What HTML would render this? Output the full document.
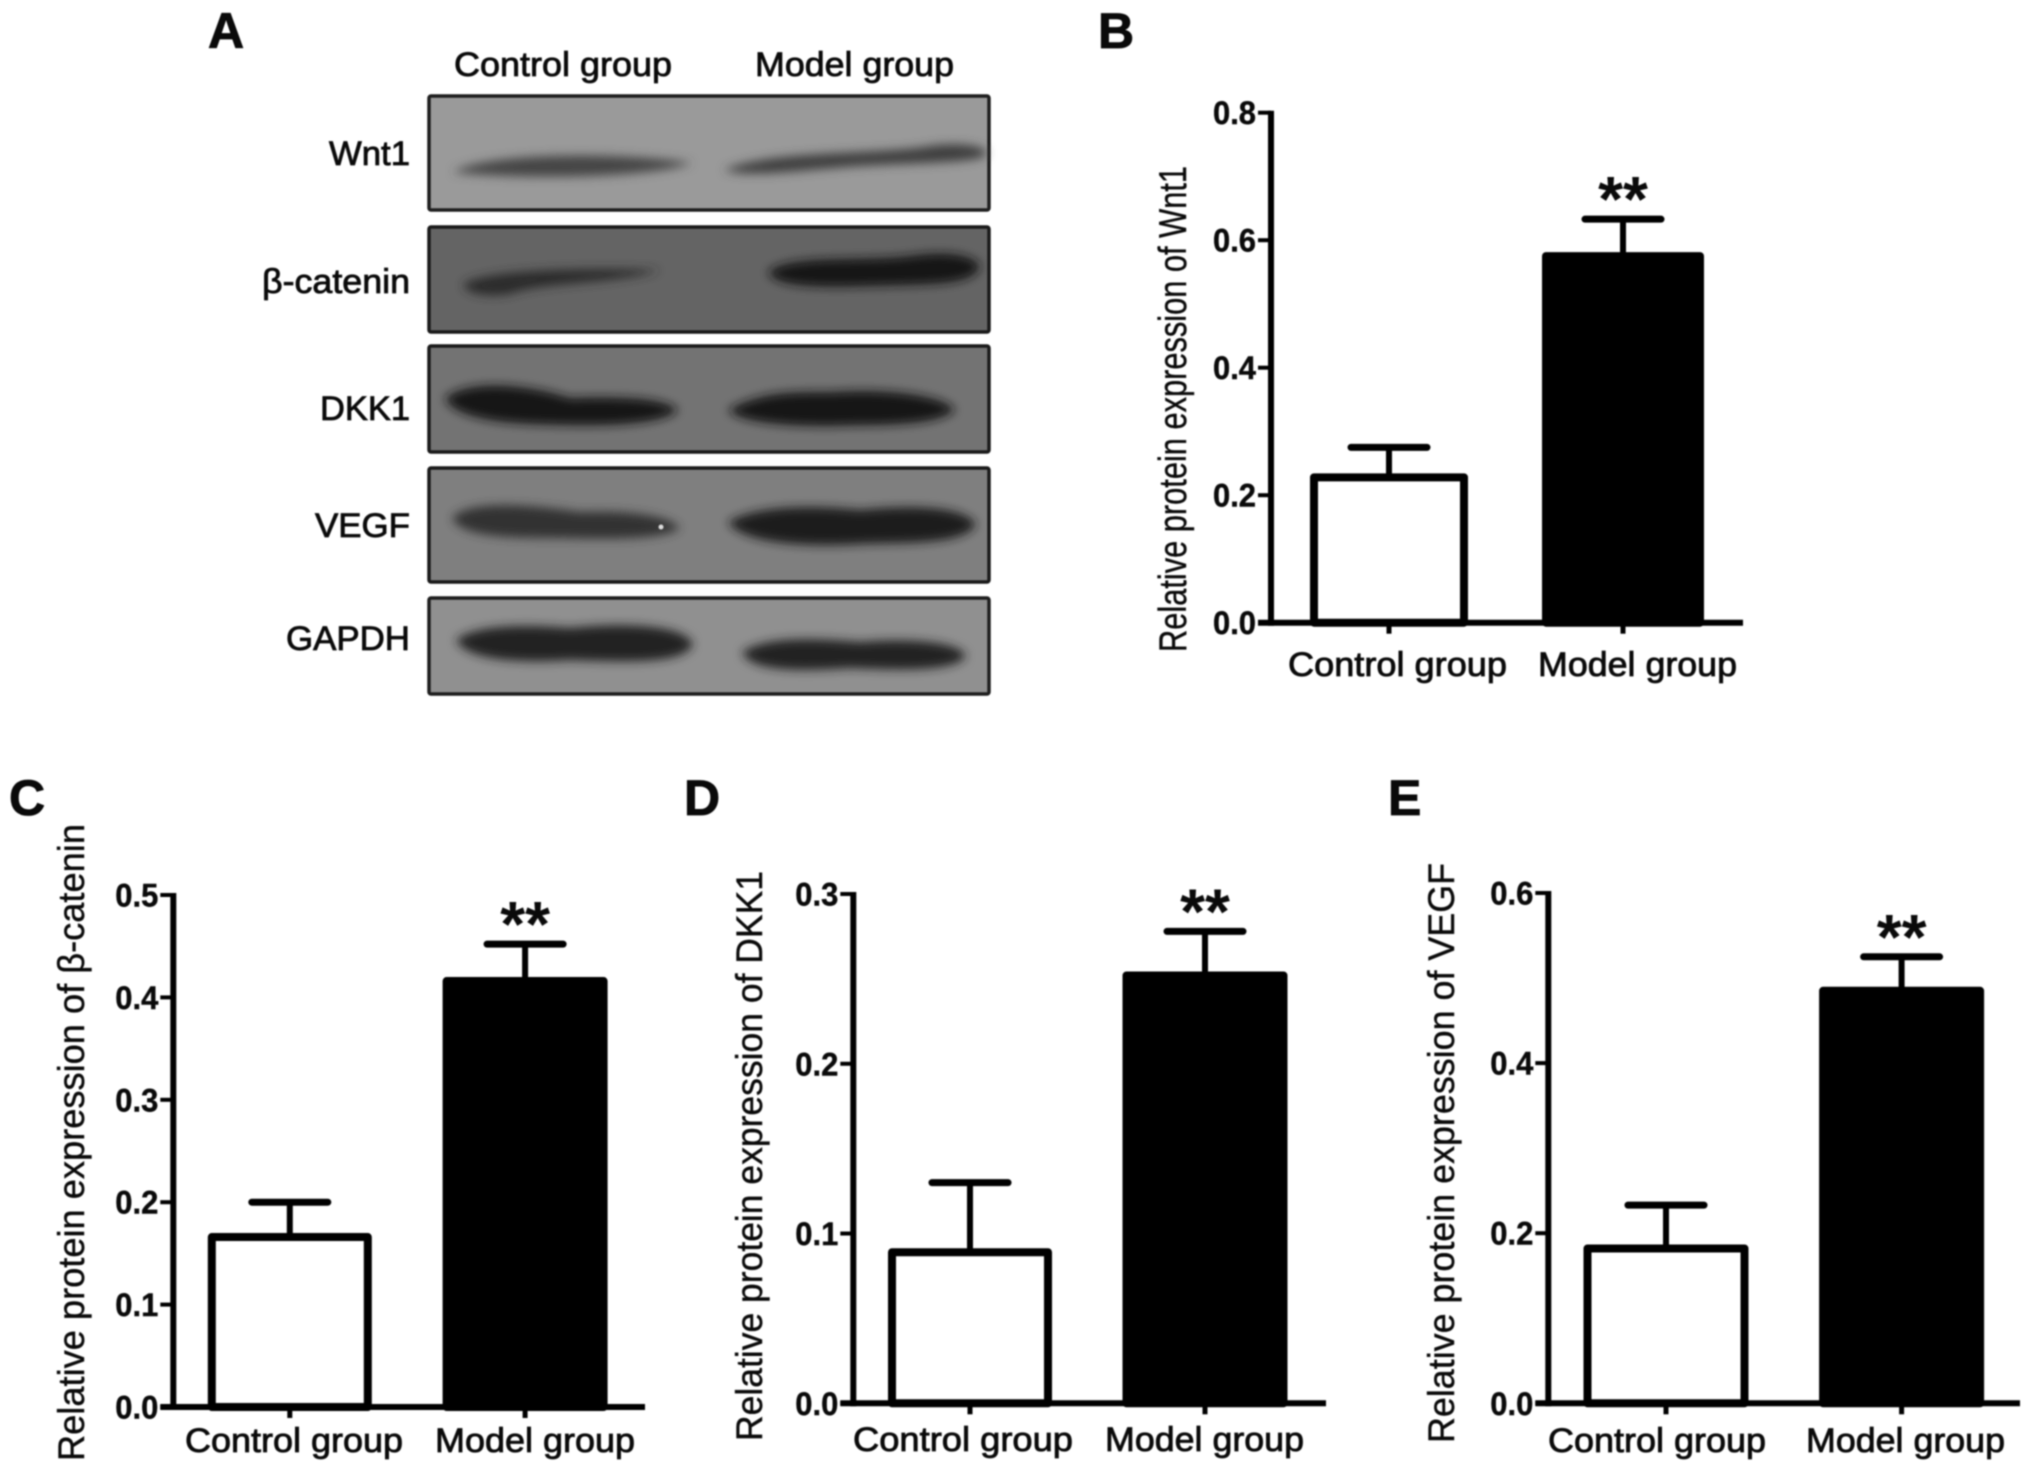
<!DOCTYPE html>
<html lang="en">
<head>
<meta charset="utf-8">
<title>Relative protein expression figure</title>
<style>
html,body{margin:0;padding:0;background:#fff;width:2031px;height:1474px;overflow:hidden}
svg{display:block;filter:blur(.8px)}
text{font-family:"Liberation Sans","DejaVu Sans",sans-serif;fill:#0a0a0a}
.panel-letter{font-size:50px;font-weight:700;stroke:#000;stroke-width:.8px}
.label{font-size:34px;stroke:#0a0a0a;stroke-width:.8px}
.axis-title{font-size:37px;stroke:#0a0a0a;stroke-width:.4px}
.tick{font-size:32px;font-weight:700;stroke:#000;stroke-width:.4px}
.band{filter:url(#soft)}
</style>
</head>
<body>
<svg id="figure" width="2031" height="1474" viewBox="0 0 2031 1474" xmlns="http://www.w3.org/2000/svg">
<defs>
<filter id="soft" filterUnits="userSpaceOnUse" x="0" y="0" width="2031" height="1474"><feGaussianBlur stdDeviation="5"/></filter>
</defs>
<rect width="2031" height="1474" fill="#fff"/>

<text class="panel-letter" x="208" y="48">A</text>
<text class="panel-letter" x="1098" y="48">B</text>
<text class="panel-letter" x="9" y="815">C</text>
<text class="panel-letter" x="684" y="815">D</text>
<text class="panel-letter" x="1388" y="815">E</text>

<g>
  <text class="label" x="454" y="76" textLength="218" lengthAdjust="spacingAndGlyphs">Control group</text>
  <text class="label" x="755" y="76" textLength="199" lengthAdjust="spacingAndGlyphs">Model group</text>
  <text class="label" x="410" y="165" text-anchor="end" textLength="81" lengthAdjust="spacingAndGlyphs">Wnt1</text>
  <text class="label" x="410" y="293" text-anchor="end" textLength="148" lengthAdjust="spacingAndGlyphs">β-catenin</text>
  <text class="label" x="410" y="420" text-anchor="end" textLength="90" lengthAdjust="spacingAndGlyphs">DKK1</text>
  <text class="label" x="410" y="537" text-anchor="end" textLength="95" lengthAdjust="spacingAndGlyphs">VEGF</text>
  <text class="label" x="410" y="650" text-anchor="end" textLength="124" lengthAdjust="spacingAndGlyphs">GAPDH</text>

  <g>
    <rect x="429" y="96" width="560" height="114" rx="2" fill="#9a9a9a" stroke="#1e1e1e" stroke-width="3.5"/>
    <path class="band" d="M453 172 C490 152 620 152 692 163 C650 178 520 180 453 172Z" fill="#444"/>
    <path class="band" d="M724 170 C770 150 880 155 930 146 C960 142 985 146 987 153 C985 163 930 162 860 166 C800 170 750 178 724 170Z" fill="#3c3c3c"/>
  </g>
  <g>
    <rect x="429" y="227" width="560" height="105" rx="2" fill="#646464" stroke="#1a1a1a" stroke-width="3.5"/>
    <path class="band" d="M463 284 C490 268 600 268 660 270 C620 284 540 282 510 294 C480 298 465 292 463 284Z" fill="#2a2a2a"/>
    <path class="band" d="M768 272 C790 254 860 262 910 256 C950 250 975 256 980 266 C975 286 930 284 870 286 C810 288 775 286 768 272Z" fill="#181818"/>
  </g>
  <g>
    <rect x="429" y="346" width="560" height="106" rx="2" fill="#737373" stroke="#1a1a1a" stroke-width="3.5"/>
    <path class="band" d="M445 398 C470 378 530 385 570 398 C620 396 665 398 678 410 C660 428 580 426 530 424 C480 422 450 412 445 398Z" fill="#181818"/>
    <path class="band" d="M728 410 C760 392 790 392 830 392 C890 388 945 396 955 410 C935 428 870 424 830 426 C780 426 740 422 728 410Z" fill="#161616"/>
  </g>
  <g>
    <rect x="429" y="468" width="560" height="114" rx="2" fill="#7f7f7f" stroke="#1a1a1a" stroke-width="3.5"/>
    <path class="band" d="M452 518 C470 498 540 506 580 512 C630 510 670 516 680 528 C660 542 590 538 550 538 C500 538 460 535 452 518Z" fill="#333"/>
    <path class="band" d="M728 522 C760 504 820 506 860 510 C920 504 965 508 976 524 C965 546 900 542 860 544 C790 548 740 540 728 522Z" fill="#1c1c1c"/>
    <circle cx="661" cy="527" r="2.5" fill="#dcdcdc"/>
  </g>
  <g>
    <rect x="429" y="598" width="560" height="96" rx="2" fill="#909090" stroke="#1e1e1e" stroke-width="3.5"/>
    <path class="band" d="M456 640 C480 622 540 626 570 628 C630 622 685 626 693 644 C685 664 630 662 570 660 C510 664 465 658 456 640Z" fill="#202020"/>
    <path class="band" d="M742 652 C770 634 830 640 860 642 C910 638 960 642 966 656 C955 672 900 670 850 668 C790 672 750 670 742 652Z" fill="#202020"/>
  </g>
</g>

<g id="panel-b">
  <text class="axis-title" style="font-size:39px" transform="translate(1186,652) rotate(-90)" textLength="486" lengthAdjust="spacingAndGlyphs">Relative protein expression of Wnt1</text>
</g>
<g id="panel-c">
  <text class="axis-title" transform="translate(84,1461) rotate(-90)" textLength="637" lengthAdjust="spacingAndGlyphs">Relative protein expression of β-catenin</text>
</g>
<g id="panel-d">
  <text class="axis-title" transform="translate(762,1441) rotate(-90)" textLength="570" lengthAdjust="spacingAndGlyphs">Relative protein expression of DKK1</text>
</g>
<g id="panel-e">
  <text class="axis-title" transform="translate(1454,1443) rotate(-90)" textLength="580" lengthAdjust="spacingAndGlyphs">Relative protein expression of VEGF</text>
</g>
</svg>

<script>
const categories = ['Control group', 'Model group'];

const wnt1Means = [0.228, 0.575];
const wnt1ErrorTops = [0.275, 0.633];
const wnt1Ticks = ['0.0', '0.2', '0.4', '0.6', '0.8'];

const cateninMeans = [0.166, 0.416];
const cateninErrorTops = [0.2, 0.452];
const cateninTicks = ['0.0', '0.1', '0.2', '0.3', '0.4', '0.5'];

const dkk1Means = [0.089, 0.252];
const dkk1ErrorTops = [0.13, 0.278];
const dkk1Ticks = ['0.0', '0.1', '0.2', '0.3'];

const vegfMeans = [0.182, 0.485];
const vegfErrorTops = [0.233, 0.525];
const vegfTicks = ['0.0', '0.2', '0.4', '0.6'];

const NS = 'http://www.w3.org/2000/svg';

function shape(parent, tag, attrs) {
  const node = document.createElementNS(NS, tag);
  Object.keys(attrs).forEach(function (k) { node.setAttribute(k, attrs[k]); });
  parent.appendChild(node);
  return node;
}

function drawPanel(id, means, errorTops, ticks, layout) {
  const root = document.getElementById(id);
  const yMax = Number(ticks[ticks.length - 1]);
  const yScale = function (v) { return layout.y0 + (layout.yTop - layout.y0) * v / yMax; };
  const xScale = function (i) { return layout.firstCenter + i * layout.step; };
  const capW = 76;

  means.forEach(function (m, i) {
    const cx = xScale(i);
    const barW = i === 0 ? layout.controlBarW : layout.modelBarW;
    const stem = shape(root, 'line', { x1: cx, x2: cx, y1: yScale(m), y2: yScale(errorTops[i]), stroke: '#000', 'stroke-width': 6 });
    
    
    const cap = shape(root, 'line', { x1: cx - capW / 2, x2: cx + capW / 2, y1: yScale(errorTops[i]), y2: yScale(errorTops[i]), stroke: '#000', 'stroke-width': 7, 'stroke-linecap': 'round' });
    
    
    const bar = shape(root, 'rect', { x: cx - barW / 2, y: yScale(m), width: barW, height: layout.y0 - yScale(m), fill: i === 0 ? '#fff' : '#000', stroke: '#000', 'stroke-width': 8, 'stroke-linejoin': 'round' });
    
    
    const tick = shape(root, 'line', { x1: cx, x2: cx, y1: layout.y0, y2: layout.y0 + 11, stroke: '#000', 'stroke-width': 5 });
    
    
    const lab = shape(root, 'text', { x: i === 0 ? layout.controlX : layout.modelX, y: layout.labelY, textLength: i === 0 ? layout.controlW : layout.modelW, lengthAdjust: 'spacingAndGlyphs', class: 'label' });
    lab.textContent = categories[i];
    
    
  });

  const star = shape(root, 'text', { x: xScale(1), y: yScale(errorTops[1]) + 2, 'text-anchor': 'middle', style: 'font-size:64px;font-weight:700' });
  star.textContent = '**';
  
  

  const yAxis = shape(root, 'line', { x1: layout.axisX, x2: layout.axisX, y1: layout.yTop - 2, y2: layout.y0 + 3, stroke: '#000', 'stroke-width': 6 });
  
  
  const xAxis = shape(root, 'line', { x1: layout.axisX - 13, x2: layout.xEnd, y1: layout.y0, y2: layout.y0, stroke: '#000', 'stroke-width': 6 });
  
  

  ticks.forEach(function (t) {
    const y = yScale(Number(t));
    const mark = shape(root, 'line', { x1: layout.axisX - 13, x2: layout.axisX, y1: y, y2: y, stroke: '#000', 'stroke-width': 4 });
    
    
    const label = shape(root, 'text', { x: layout.axisX - 58, y: y + 11.5, textLength: 43, lengthAdjust: 'spacingAndGlyphs', class: 'tick' });
    label.textContent = t;
    
    
  });
}

drawPanel('panel-b', wnt1Means, wnt1ErrorTops, wnt1Ticks, { axisX: 1271, xEnd: 1743, y0: 622.7, yTop: 112.7, firstCenter: 1389, step: 234, controlBarW: 150, modelBarW: 154, labelY: 676, controlX: 1288, controlW: 219, modelX: 1538, modelW: 199 });
drawPanel('panel-c', cateninMeans, cateninErrorTops, cateninTicks, { axisX: 173.3, xEnd: 645, y0: 1407, yTop: 895, firstCenter: 289.8, step: 235.3, controlBarW: 156, modelBarW: 157, labelY: 1452, controlX: 185, controlW: 218, modelX: 435, modelW: 200 });
drawPanel('panel-d', dkk1Means, dkk1ErrorTops, dkk1Ticks, { axisX: 853.3, xEnd: 1326, y0: 1403.3, yTop: 894, firstCenter: 970, step: 235, controlBarW: 156, modelBarW: 157, labelY: 1451, controlX: 853, controlW: 220, modelX: 1105, modelW: 199 });
drawPanel('panel-e', vegfMeans, vegfErrorTops, vegfTicks, { axisX: 1548.3, xEnd: 2020, y0: 1403.3, yTop: 893, firstCenter: 1666, step: 235.6, controlBarW: 157, modelBarW: 157, labelY: 1452, controlX: 1548, controlW: 218, modelX: 1806, modelW: 199 });
</script>
</body>
</html>
